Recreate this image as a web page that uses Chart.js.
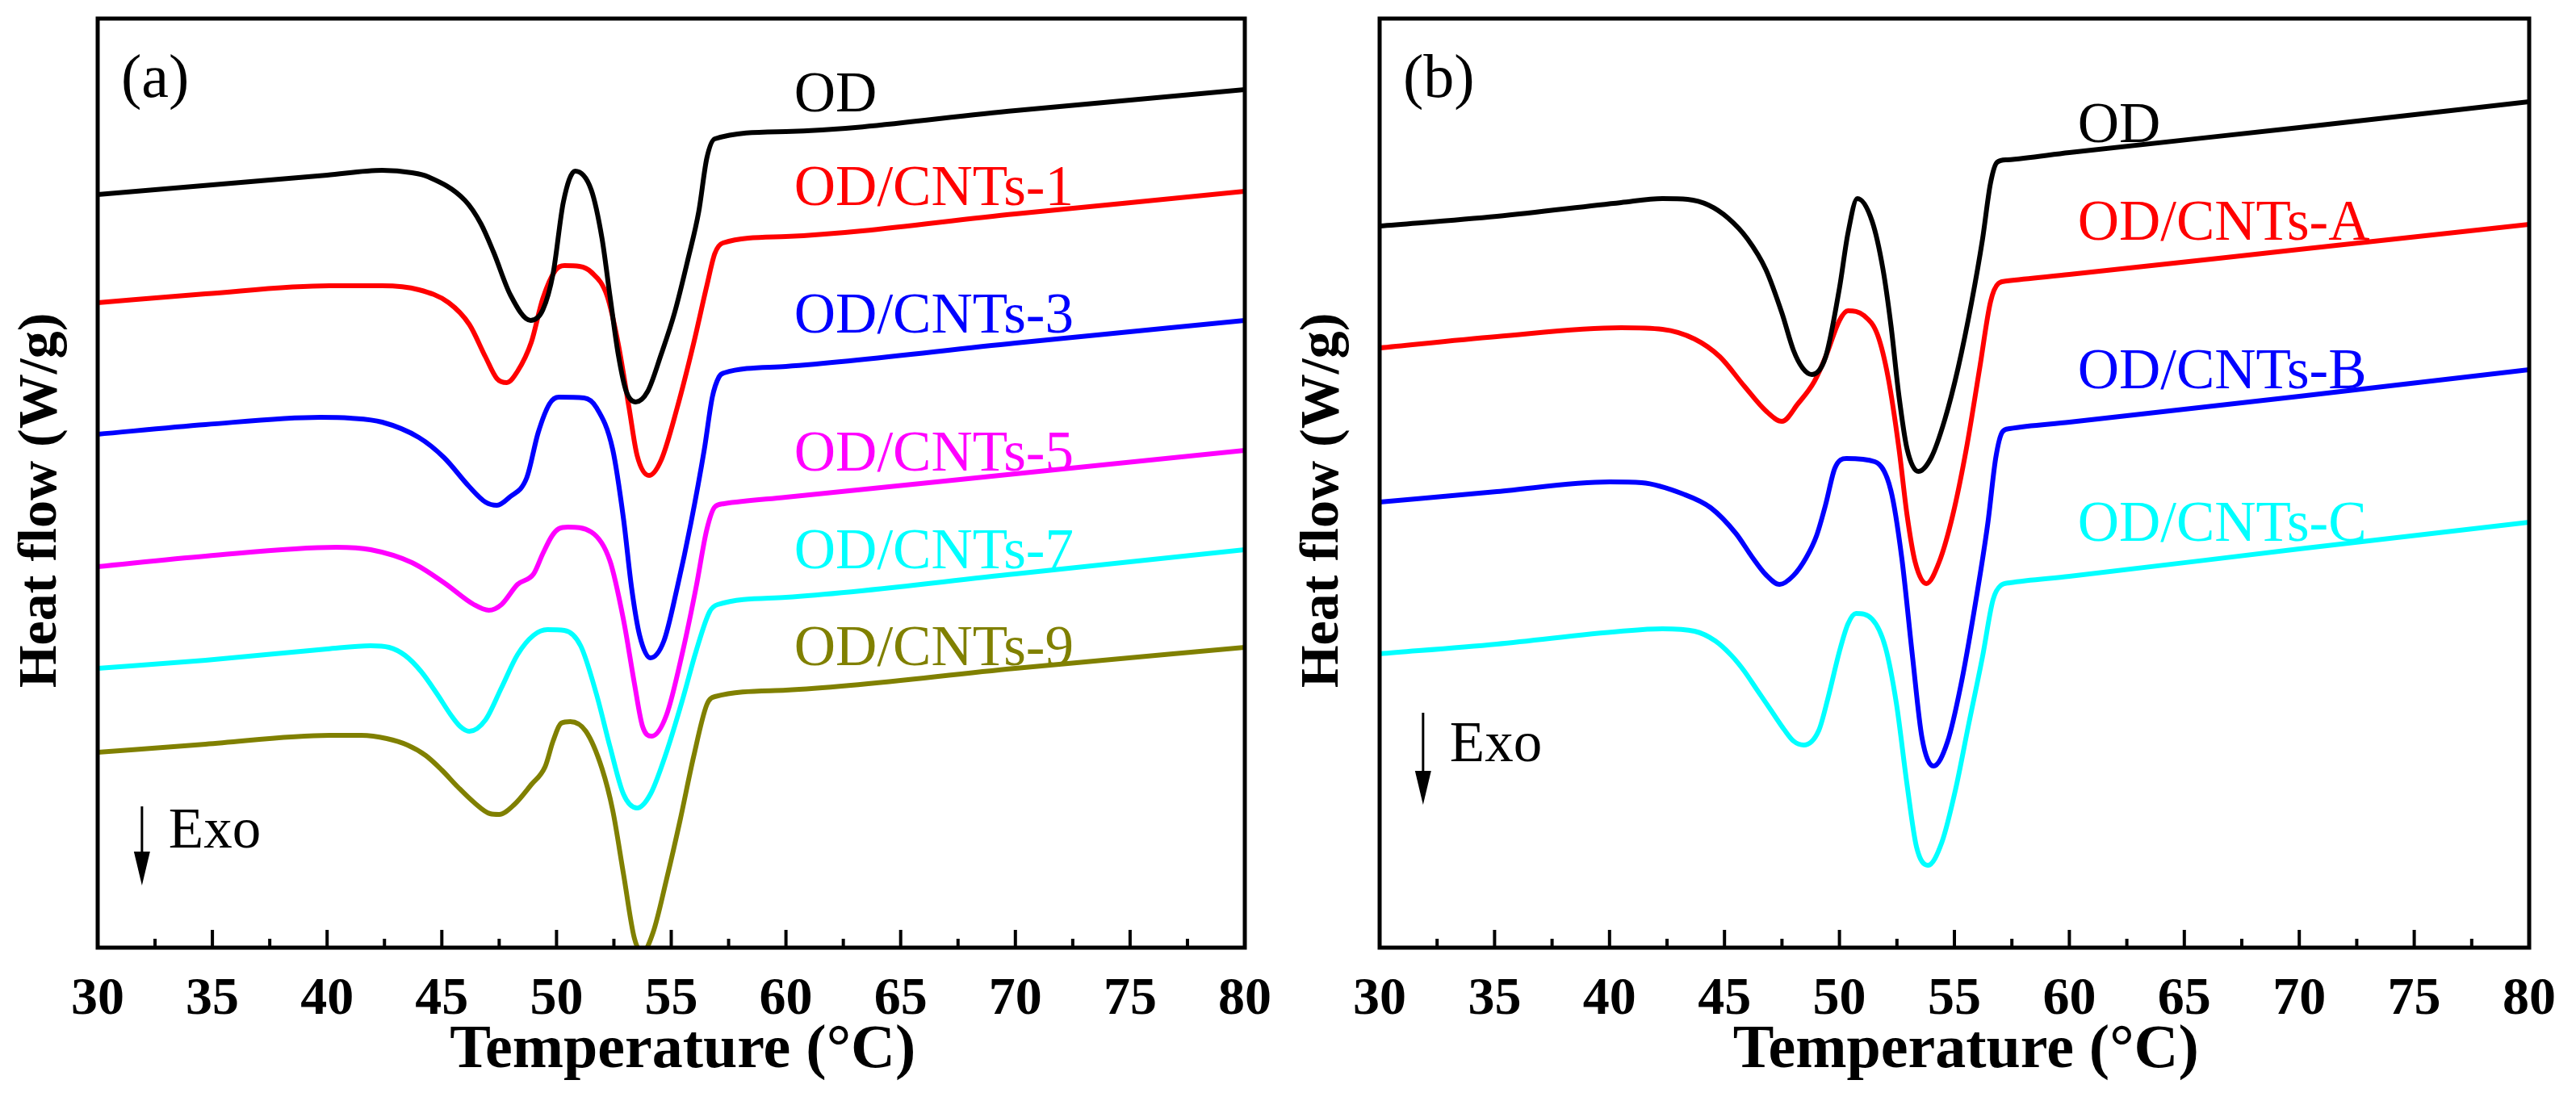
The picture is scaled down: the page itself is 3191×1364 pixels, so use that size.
<!DOCTYPE html>
<html>
<head>
<meta charset="utf-8">
<script src="https://cdn.jsdelivr.net/npm/chart.js@4.4.1/dist/chart.umd.min.js"></script>
<style>
  body { margin: 0; background: #fff; }
  #wrap { position: relative; width: 3191px; height: 1364px; }
  canvas { position: absolute; top: 0; }
  #chartA { left: 0; }
  #chartB { left: 1600px; }
</style>
</head>
<body>
<div id="wrap">
  <canvas id="chartA" width="1600" height="1364"></canvas>
  <canvas id="chartB" width="1591" height="1364"></canvas>
</div>
<script>
// [temperature (°C), heat flow (a.u., curves offset)]
const odA = [[30,9.33],[35,9.45],[40,9.57],[42.4,9.63],[43.7,9.60],[44.4,9.55],[46,9.26],[46.7,8.97],[47.25,8.62],[48,8.08],[48.87,7.77],[49.4,7.90],[49.85,8.35],[50.3,9.24],[50.81,9.62],[51.51,9.39],[51.98,8.79],[52.33,8.07],[52.69,7.35],[53.04,6.89],[53.45,6.76],[53.97,6.89],[54.56,7.35],[55.15,7.87],[55.73,8.53],[56.2,9.12],[56.55,9.78],[56.9,10.02],[60,10.11],[70,10.37],[80,10.63]];
const cnt1A = [[30,7.99],[34.7,8.10],[40.1,8.20],[42.4,8.20],[44,8.15],[45.3,7.99],[46.2,7.72],[46.9,7.32],[47.4,7.05],[47.83,7.00],[48.3,7.14],[48.9,7.50],[49.4,8.04],[49.95,8.39],[50.34,8.45],[51,8.44],[51.51,8.37],[52.21,8.07],[52.69,7.48],[53.16,6.69],[53.51,6.10],[54.03,5.85],[54.56,6.04],[55.26,6.69],[55.97,7.48],[56.55,8.20],[56.9,8.60],[57.25,8.73],[60,8.81],[70,9.09],[80,9.37]];
const cnt3A = [[30,6.36],[34.7,6.48],[39.7,6.57],[41,6.56],[42.4,6.51],[44,6.32],[45.1,6.07],[46.2,5.71],[46.9,5.52],[47.4,5.48],[47.95,5.58],[48.7,5.82],[49.2,6.38],[49.7,6.74],[50.1,6.82],[51.2,6.81],[51.74,6.69],[52.45,6.17],[52.92,5.31],[53.27,4.46],[53.62,3.87],[54.09,3.59],[54.68,3.80],[55.26,4.46],[55.85,5.25],[56.44,6.17],[56.79,6.82],[57.08,7.07],[57.3,7.12],[60,7.20],[70,7.49],[80,7.77]];
const cnt5A = [[30,4.72],[34.7,4.85],[40.4,4.96],[41.9,4.93],[43.7,4.77],[45.1,4.52],[46.4,4.25],[47.05,4.18],[47.6,4.25],[48.3,4.50],[49,4.63],[49.4,4.88],[49.8,5.10],[50.1,5.19],[50.5,5.21],[51.51,5.15],[52.33,4.79],[52.92,4.06],[53.39,3.28],[53.74,2.75],[54.15,2.62],[54.79,2.88],[55.5,3.67],[56.08,4.46],[56.55,5.18],[56.9,5.46],[57.3,5.50],[60,5.58],[70,5.87],[80,6.16]];
const cnt7A = [[30,3.46],[34.7,3.56],[40,3.70],[41.9,3.74],[42.7,3.72],[43.4,3.62],[44.1,3.42],[44.8,3.14],[45.4,2.88],[45.8,2.74],[46.2,2.68],[46.9,2.82],[47.6,3.22],[48.3,3.63],[49,3.87],[49.6,3.94],[50.34,3.93],[51.05,3.74],[51.74,3.14],[52.33,2.49],[52.92,1.90],[53.51,1.73],[54.09,1.90],[54.79,2.42],[55.5,3.08],[56.08,3.67],[56.67,4.16],[57.02,4.25],[60,4.34],[70,4.63],[80,4.93]];
const cnt9A = [[30,2.42],[34.7,2.52],[40.1,2.63],[41.5,2.63],[42.6,2.59],[43.5,2.51],[44.3,2.38],[45,2.20],[45.7,1.99],[46.4,1.80],[47.1,1.66],[47.5,1.65],[48.15,1.77],[48.9,2.02],[49.5,2.24],[49.85,2.56],[50.2,2.78],[50.6,2.80],[51.28,2.68],[51.98,2.22],[52.45,1.70],[52.92,0.91],[53.39,0.12],[53.74,-0.06],[54.21,0.19],[54.79,0.84],[55.38,1.57],[55.97,2.36],[56.55,3.01],[56.9,3.11],[60,3.19],[70,3.46],[80,3.72]];

const odB = [[30,8.94],[35.1,9.06],[40.5,9.23],[42.3,9.28],[43.4,9.27],[44.3,9.20],[45.15,9.04],[46,8.78],[46.8,8.40],[47.5,7.86],[48,7.40],[48.4,7.18],[48.8,7.10],[49.4,7.32],[50,8.17],[50.37,8.85],[50.78,9.28],[51.42,9.00],[51.89,8.41],[52.24,7.71],[52.59,6.83],[52.94,6.18],[53.43,5.90],[53.99,6.07],[54.58,6.54],[55.16,7.18],[55.75,8.00],[56.22,8.77],[56.57,9.47],[56.86,9.73],[57.3,9.76],[60,9.85],[70,10.16],[80,10.48]];
const cntAB = [[30,7.43],[35.1,7.57],[40.5,7.68],[42.3,7.66],[43.7,7.54],[44.8,7.32],[45.85,6.96],[46.8,6.65],[47.5,6.52],[48.2,6.74],[48.9,7.01],[49.4,7.32],[50,7.77],[50.37,7.89],[51.07,7.83],[51.66,7.59],[52.12,7.06],[52.59,6.18],[52.94,5.36],[53.29,4.78],[53.78,4.51],[54.34,4.78],[54.93,5.36],[55.52,6.18],[56.1,7.18],[56.57,8.00],[56.92,8.23],[57.3,8.26],[60,8.34],[70,8.65],[80,8.96]];
const cntBB = [[30,5.52],[35.1,5.65],[40,5.77],[41.4,5.76],[43.2,5.62],[44.4,5.45],[45.5,5.13],[46.2,4.84],[46.8,4.62],[47.4,4.50],[48,4.61],[48.55,4.83],[49,5.10],[49.4,5.49],[49.8,5.94],[50.3,6.06],[51.54,6.02],[52.24,5.66],[52.71,4.83],[53.18,3.60],[53.59,2.60],[54.09,2.25],[54.7,2.55],[55.28,3.25],[55.87,4.19],[56.45,5.25],[56.8,6.07],[57.09,6.39],[57.4,6.43],[60,6.51],[70,6.83],[80,7.16]];
const cntCB = [[30,3.64],[35.1,3.76],[40.5,3.92],[42.3,3.95],[43.7,3.92],[44.6,3.80],[45.3,3.62],[45.85,3.43],[46.4,3.20],[47,2.95],[47.6,2.70],[48,2.56],[48.45,2.51],[49.1,2.69],[49.5,3.09],[50,3.67],[50.37,4.01],[50.72,4.14],[51.42,4.07],[52,3.72],[52.48,3.02],[52.94,2.02],[53.35,1.25],[53.85,1.02],[54.46,1.31],[55.05,1.96],[55.63,2.78],[56.22,3.60],[56.68,4.31],[57.03,4.49],[57.4,4.52],[60,4.60],[70,4.94],[80,5.27]];

const namesA = ['OD', 'OD/CNTs-1', 'OD/CNTs-3', 'OD/CNTs-5', 'OD/CNTs-7', 'OD/CNTs-9'];
const namesB = ['OD', 'OD/CNTs-A', 'OD/CNTs-B', 'OD/CNTs-C'];
const colorsA = ['#000000', '#ff0000', '#0000ff', '#ff00ff', '#00ffff', '#808000'];
const colorsB = ['#000000', '#ff0000', '#0000ff', '#00ffff'];

// where the curve names sit (temperature, heat flow of the text baseline)
const namePosA = [[60.36,10.36],[60.36,9.20],[60.36,7.62],[60.36,5.91],[60.36,4.70],[60.36,3.50]];
const namePosB = [[60.36,9.98],[60.36,8.77],[60.36,6.93],[60.36,5.04]];

const serif = '"Liberation Serif", "Times New Roman", serif';

const decor = {
  id: 'decor',
  afterDatasetsDraw(chart, args, o) {
    const {ctx, chartArea: a, scales: {x, y}} = chart;
    ctx.save();
    ctx.strokeStyle = '#000';
    ctx.fillStyle = '#000';

    // frame
    ctx.lineWidth = 5;
    ctx.strokeRect(a.left, a.top, a.right - a.left, a.bottom - a.top);

    // inward ticks, minor every 2.5
    ctx.lineWidth = 4;
    for (let t = 32.5; t < 80; t += 2.5) {
      const px = x.getPixelForValue(t);
      const len = t % 5 === 0 ? 22 : 11;
      ctx.beginPath();
      ctx.moveTo(px, a.bottom);
      ctx.lineTo(px, a.bottom - len);
      ctx.stroke();
    }

    // curve names
    ctx.font = '71px ' + serif;
    ctx.textAlign = 'left';
    ctx.textBaseline = 'alphabetic';
    o.names.forEach((n, i) => {
      ctx.fillStyle = o.colors[i];
      ctx.fillText(n, x.getPixelForValue(o.namePos[i][0]), y.getPixelForValue(o.namePos[i][1]));
    });

    // panel letter
    ctx.fillStyle = '#000';
    ctx.font = '76px ' + serif;
    ctx.fillText(o.letter, x.getPixelForValue(31.02), y.getPixelForValue(10.54));

    // Exo arrow
    ctx.font = '71px ' + serif;
    ctx.fillText('Exo', x.getPixelForValue(o.exo[0]), y.getPixelForValue(o.exo[1]));
    const ax = x.getPixelForValue(o.arrow[0]);
    const y1 = y.getPixelForValue(o.arrow[1]);
    const y2 = y.getPixelForValue(o.arrow[2]);
    ctx.lineWidth = 3;
    ctx.beginPath();
    ctx.moveTo(ax, y1);
    ctx.lineTo(ax, y2 - 40);
    ctx.stroke();
    ctx.beginPath();
    ctx.moveTo(ax - 10, y2 - 42);
    ctx.lineTo(ax + 10, y2 - 42);
    ctx.lineTo(ax, y2);
    ctx.closePath();
    ctx.fill();

    // axis titles
    ctx.font = 'bold 76px ' + serif;
    ctx.textAlign = 'center';
    ctx.fillText('Temperature (°C)', x.getPixelForValue(55.5), chart.height - 42);

    ctx.save();
    ctx.translate(a.left - 52, y.getPixelForValue(5.54));
    ctx.rotate(-Math.PI / 2);
    ctx.font = 'bold 68px ' + serif;
    ctx.fillText('Heat flow (W/g)', 0, 0);
    ctx.restore();

    ctx.restore();
  }
};

function makeDatasets(series, names, colors) {
  return series.map((s, i) => ({
    label: names[i],
    data: s.map(p => ({x: p[0], y: p[1]})),
    borderColor: colors[i],
    borderWidth: 6,
    pointRadius: 0,
    fill: false,
    cubicInterpolationMode: 'monotone'
  }));
}

function makeOptions(padLeft, padRight, extra) {
  return {
    responsive: false,
    animation: false,
    devicePixelRatio: 1,
    layout: { padding: { left: padLeft, right: padRight, top: 23, bottom: 0 } },
    plugins: {
      legend: { display: false },
      tooltip: { enabled: false },
      decor: extra
    },
    scales: {
      x: {
        type: 'linear',
        min: 30,
        max: 80,
        grid: { display: false, drawTicks: false },
        border: { display: false },
        ticks: {
          stepSize: 5,
          padding: 25,
          color: '#000',
          font: { family: serif, size: 66, weight: 'bold' }
        },
        afterFit: scale => { scale.height = 190; }
      },
      y: {
        display: false,
        min: 0,
        max: 11.51
      }
    }
  };
}

new Chart(document.getElementById('chartA'), {
  type: 'line',
  data: { datasets: makeDatasets([odA, cnt1A, cnt3A, cnt5A, cnt7A, cnt9A], namesA, colorsA) },
  options: makeOptions(121, 56, {
    names: namesA, colors: colorsA, namePos: namePosA, letter: '(a)',
    exo: [33.09, 1.24], arrow: [31.93, 1.75, 0.77]
  }),
  plugins: [decor]
});

new Chart(document.getElementById('chartB'), {
  type: 'line',
  data: { datasets: makeDatasets([odB, cntAB, cntBB, cntCB], namesB, colorsB) },
  options: makeOptions(109, 56, {
    names: namesB, colors: colorsB, namePos: namePosB, letter: '(b)',
    exo: [33.05, 2.31], arrow: [31.89, 2.91, 1.77]
  }),
  plugins: [decor]
});
</script>
</body>
</html>
